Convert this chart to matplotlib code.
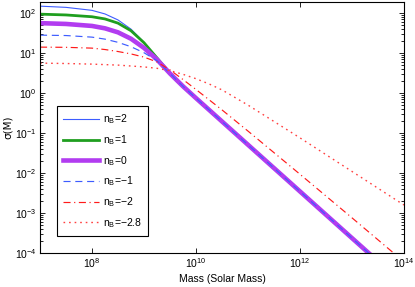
import numpy as np
import matplotlib
matplotlib.use('Agg')
import matplotlib.pyplot as plt
from matplotlib.ticker import FixedLocator, NullLocator, LogFormatterSciNotation

plt.rcParams['font.family'] = ['Liberation Sans', 'DejaVu Sans']
plt.rcParams['mathtext.fontset'] = 'custom'
plt.rcParams['mathtext.rm'] = 'Liberation Sans'
plt.rcParams['mathtext.it'] = 'Liberation Sans:italic'

# values, in log10(M) and log10(sigma)
logm_a = [7.0, 7.5, 8.0, 8.25, 8.5, 8.75, 9.0, 9.25, 9.5, 9.75, 10.0, 11.0, 12.0, 13.0, 13.5]
sig_nb2 = [2.175, 2.145, 2.07, 1.98, 1.83, 1.60, 1.27, 0.88, 0.49, 0.17, -0.126, -1.293, -2.46, -3.627, -4.21]
sig_nb1 = [1.975, 1.955, 1.91, 1.855, 1.75, 1.56, 1.26, 0.88, 0.49, 0.17, -0.126, -1.293, -2.46, -3.627, -4.21]
sig_nb0 = [1.75, 1.73, 1.68, 1.62, 1.52, 1.36, 1.13, 0.84, 0.49, 0.17, -0.126, -1.293, -2.46, -3.627, -4.21]
sig_nbm1 = [1.45, 1.44, 1.40, 1.35, 1.27, 1.16, 1.01, 0.81, 0.49, 0.17, -0.126, -1.293, -2.46, -3.627, -4.21]

logm_b = [7.0, 7.5, 8.0, 8.25, 8.5, 8.75, 9.0, 9.25, 9.5, 9.75, 10.0, 10.5, 11.0, 12.0, 13.0, 13.8]
sig_nbm2 = [1.15, 1.145, 1.125, 1.09, 1.04, 0.98, 0.90, 0.78, 0.58, 0.34, 0.09, -0.42, -0.95, -2.03, -3.12, -4.0]

logm_c = [7.0, 7.5, 8.0, 8.5, 9.0, 9.25, 9.5, 9.75, 10.0, 10.25, 10.5, 11.0, 11.5, 12.0, 13.0, 14.0]
sig_nbm28 = [0.75, 0.74, 0.725, 0.70, 0.655, 0.62, 0.56, 0.47, 0.36, 0.23, 0.08, -0.30, -0.71, -1.12, -1.96, -2.8]

xticks = [1e8, 1e10, 1e12, 1e14]
yticks = [1e-4, 1e-3, 1e-2, 1e-1, 1e0, 1e1, 1e2]

labels = ['n$_\\mathrm{B}$=2', 'n$_\\mathrm{B}$=1', 'n$_\\mathrm{B}$=0',
          'n$_\\mathrm{B}$=\u22121', 'n$_\\mathrm{B}$=\u22122', 'n$_\\mathrm{B}$=\u22122.8']

fig = plt.figure(figsize=(4.15, 2.87), dpi=100)
ax = fig.add_axes([0.0964, 0.1185, 0.877, 0.8745])

ax.plot(10**np.array(logm_a), 10**np.array(sig_nb2), color='#3d5cff', lw=0.8, label=labels[0])
ax.plot(10**np.array(logm_a), 10**np.array(sig_nb1), color='#1f9e1f', lw=2.0, label=labels[1])
ax.plot(10**np.array(logm_a), 10**np.array(sig_nb0), color='#b23cf0', lw=3.3, label=labels[2])
ax.plot(10**np.array(logm_a), 10**np.array(sig_nbm1), color='#3d5cff', lw=0.85,
        linestyle=(0, (6, 4)), label=labels[3])
ax.plot(10**np.array(logm_b), 10**np.array(sig_nbm2), color='#ff1a1a', lw=0.85,
        linestyle=(0, (6, 3, 1, 3)), label=labels[4])
ax.plot(10**np.array(logm_c), 10**np.array(sig_nbm28), color='#ff4040', lw=1.0,
        linestyle=(0, (1.2, 2.8)), label=labels[5])

ax.set_xscale('log')
ax.set_yscale('log')
ax.set_xlim(1e7, 1e14)
ax.set_ylim(1e-4, 190)

ax.xaxis.set_major_locator(FixedLocator(xticks))
ax.xaxis.set_minor_locator(NullLocator())
ax.xaxis.set_major_formatter(LogFormatterSciNotation())
ax.yaxis.set_major_locator(FixedLocator(yticks))
ax.yaxis.set_major_formatter(LogFormatterSciNotation())
# minor ticks 2..9 inside each decade
yminor = [m * t for t in yticks[:-1] for m in range(2, 10)]
ax.yaxis.set_minor_locator(FixedLocator(yminor))

ax.tick_params(which='both', direction='in', top=True, right=True, labelsize=7.5, width=0.6)
ax.tick_params(which='major', length=3.5, pad=2.5)
ax.tick_params(which='minor', length=2)
for s in ax.spines.values():
    s.set_linewidth(0.8)

ax.set_xlabel('Mass (Solar Mass)', fontsize=7.5)
ax.xaxis.set_label_coords(0.5, -0.085)
ax.set_ylabel('\u03c3(M)', fontsize=7.5, family=['DejaVu Sans'])
ax.yaxis.set_label_coords(-0.075, 0.5)

leg = ax.legend(loc='lower left', bbox_to_anchor=(0.047, 0.068), fontsize=7.5,
                frameon=True, fancybox=False, edgecolor='black', framealpha=1,
                handlelength=3.4, handletextpad=0.4, labelspacing=0.66,
                borderpad=0.6, borderaxespad=0)
leg.get_frame().set_linewidth(0.8)

fig.savefig('out.png', dpi=100)
